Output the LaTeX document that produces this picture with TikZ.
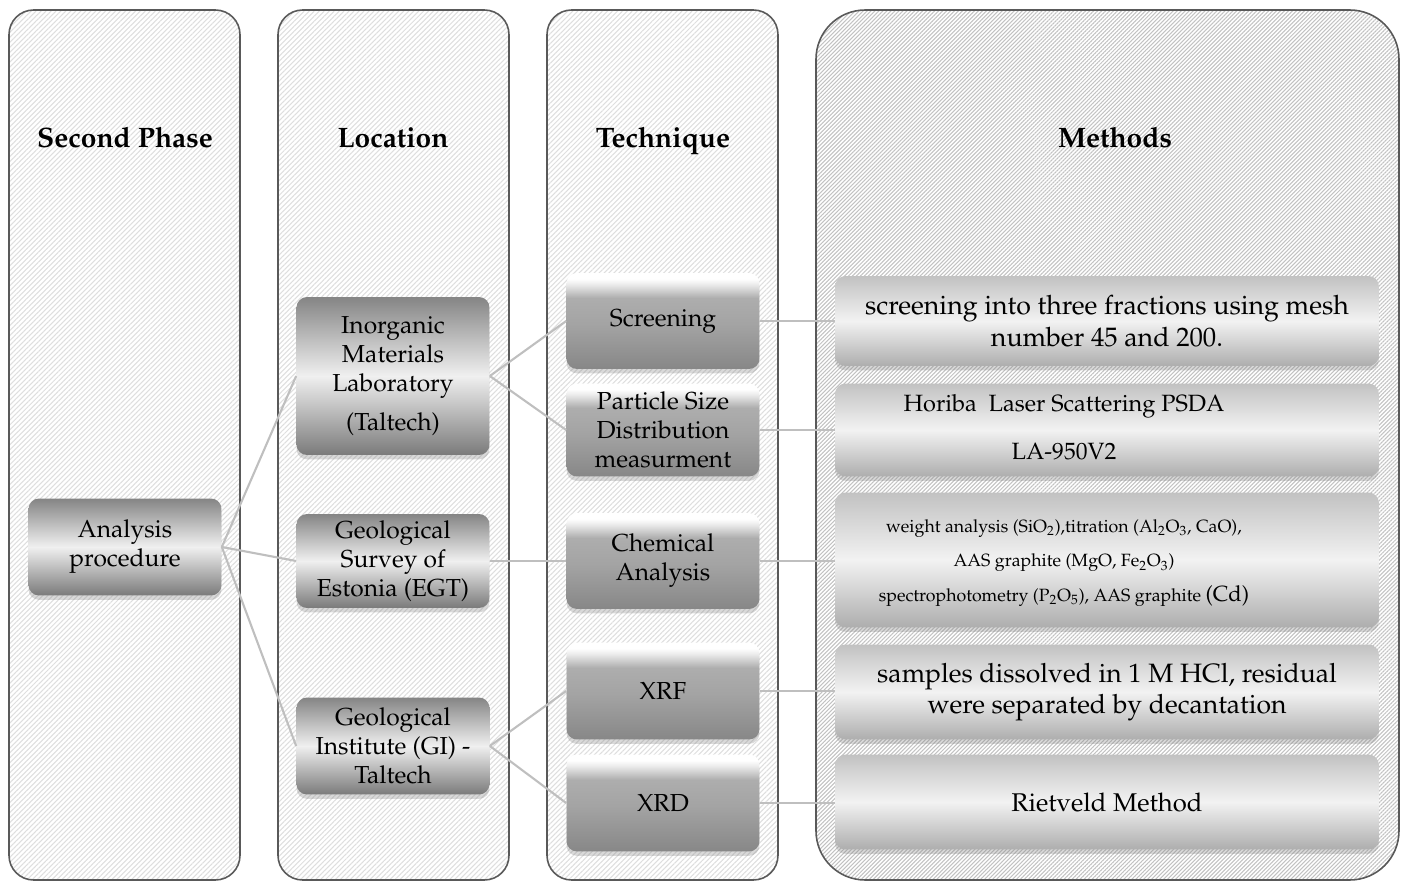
\documentclass[tikz,border=0pt]{standalone}
\usepackage[T1]{fontenc}
\usepackage{mathpazo}
\usetikzlibrary{shadows,patterns.meta}

\pgfdeclareverticalshading{techshade}{100bp}{color(0bp)=(black!48); color(25bp)=(black!47); color(48bp)=(black!36); color(62bp)=(black!32); color(69bp)=(black!8); color(72bp)=(white); color(100bp)=(white)}

% text block pushed left inside its box
\newcommand{\leftblock}[1]{\begin{tabular}{@{}c@{}}#1\end{tabular}\hspace*{1.72cm}}

\tikzset{
  panel/.style={draw=black!65, line width=0.9pt, rounded corners=14pt,
    pattern={Lines[angle=45,distance=2pt,line width=0.6pt]}, pattern color=black!13},
  box/.style={rounded corners=6pt, align=center, inner sep=2pt,
    font=\fontsize{14}{16.5}\selectfont,
    drop shadow={shadow xshift=0pt, shadow yshift=-2.5pt, opacity=0.3}},
  darkbox/.style={box, minimum width=3.86cm, top color=black!48, bottom color=black!52, middle color=black!6},
  techbox/.style={box, minimum width=3.86cm, shading=techshade},
  methbox/.style={box, minimum width=10.88cm, top color=black!24, bottom color=black!32, middle color=black!5},
  head/.style={anchor=base, font=\fontsize{16}{19}\selectfont\bfseries},
  link/.style={draw=black!25, line width=1.2pt}
}

\begin{document}
\begin{tikzpicture}[x=0.02cm,y=-0.02cm]
    \useasboundingbox (0,0) rectangle (1401,882);
    \clip (0,0) rectangle (1401,882);

    % columns
    \draw[panel] (9,10) rectangle (240,880);
    \draw[panel] (278,10) rectangle (509,880);
    \draw[panel] (547,10) rectangle (778,880);
    \draw[panel, rounded corners=28pt, pattern={Lines[angle=45,distance=1.6pt,line width=0.6pt]},
        pattern color=black!24] (816,10) rectangle (1399,880);

    \node[head] (hphase) at (125,148) {Second Phase};
    \node[head] (hloc)   at (393,148) {Location};
    \node[head] (htech)  at (663,148) {Technique};
    \node[head] (hmeth)  at (1115,148) {Methods};

    \node[darkbox, minimum height=1.94cm] (ana) at (125,547) {Analysis\\procedure};

    \node[darkbox, minimum height=3.16cm] (inorg) at (393,376) {Inorganic\\Materials\\Laboratory\\[6pt](Taltech)};
    \node[darkbox, minimum height=1.88cm] (egt) at (393,561) {Geological\\Survey of\\Estonia (EGT)};
    \node[darkbox, minimum height=1.94cm] (gi) at (393,746) {Geological\\Institute (GI) -\\Taltech};

    \node[techbox, minimum height=1.92cm] (scr)  at (663,321) {Screening};
    \node[techbox, minimum height=1.86cm] (psd)  at (663,430) {Particle Size\\Distribution\\measurment};
    \node[techbox, minimum height=1.92cm] (chem) at (663,561) {Chemical\\Analysis};
    \node[techbox, minimum height=1.94cm] (xrf)  at (663,691) {XRF};
    \node[techbox, minimum height=1.94cm] (xrd)  at (663,803) {XRD};

    \node[methbox, minimum height=1.8cm, font=\fontsize{15.2}{18}\selectfont] (mscr) at (1107,321)
        {screening into three fractions using mesh\\number 45 and 200.};
    \node[methbox, minimum height=1.86cm, font=\fontsize{13.4}{16}\selectfont] (mpsd) at (1107,430)
        {\leftblock{Horiba\ \ Laser Scattering PSDA\\[11pt]LA-950V2}};
    \node[methbox, minimum height=2.7cm, font=\fontsize{10.1}{19.8}\selectfont] (mchem) at (1107,560)
        {\leftblock{weight analysis (SiO\textsubscript{2}),titration (Al\textsubscript{2}O\textsubscript{3}, CaO),\\
         AAS graphite (MgO, Fe\textsubscript{2}O\textsubscript{3})\\
         spectrophotometry (P\textsubscript{2}O\textsubscript{5}), AAS graphite {\fontsize{12.5}{19.8}\selectfont(Cd)}}};
    \node[methbox, minimum height=1.9cm, font=\fontsize{15.1}{18}\selectfont] (mxrf) at (1107,692)
        {samples dissolved in 1 M HCl, residual\\were separated by decantation};
    \node[methbox, minimum height=1.9cm, font=\fontsize{14.6}{17}\selectfont] (mxrd) at (1107,802) {Rietveld Method};

    \draw[link] (ana.east) -- (inorg.west);
    \draw[link] (ana.east) -- (egt.west);
    \draw[link] (ana.east) -- (gi.west);
    \draw[link] (inorg.east) -- (scr.west);
    \draw[link] (inorg.east) -- (psd.west);
    \draw[link] (egt.east) -- (chem.west);
    \draw[link] (gi.east) -- (xrf.west);
    \draw[link] (gi.east) -- (xrd.west);
    \draw[link] (scr.east) -- (scr.east -| mscr.west);
    \draw[link] (psd.east) -- (psd.east -| mpsd.west);
    \draw[link] (chem.east) -- (chem.east -| mchem.west);
    \draw[link] (xrf.east) -- (xrf.east -| mxrf.west);
    \draw[link] (xrd.east) -- (xrd.east -| mxrd.west);
\end{tikzpicture}
\end{document}
